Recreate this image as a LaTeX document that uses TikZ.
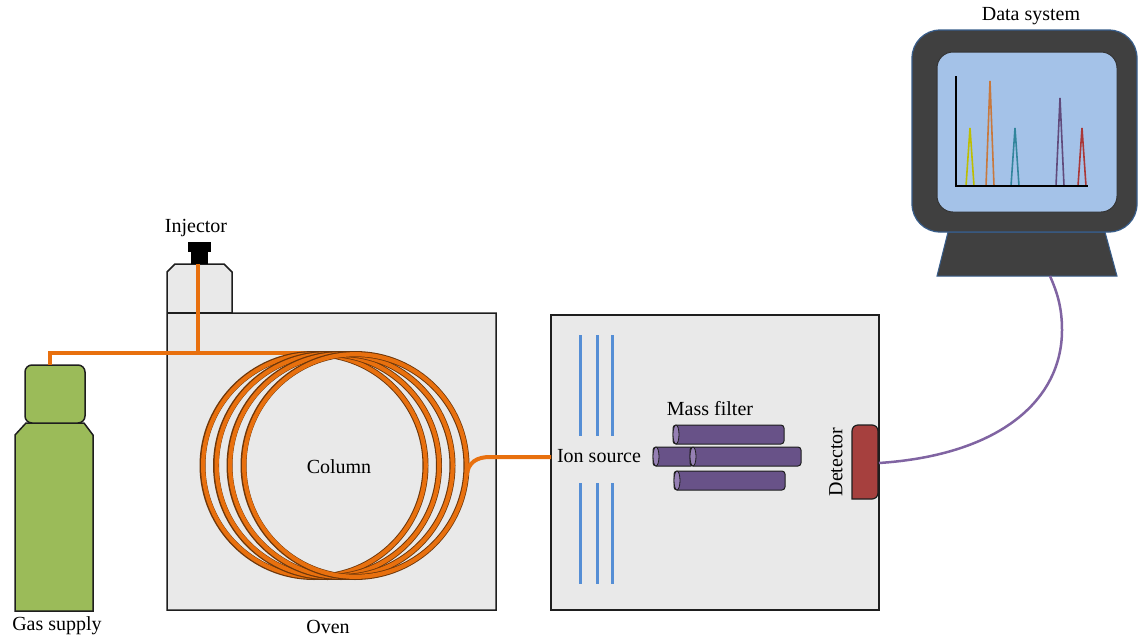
\documentclass[tikz,border=0pt]{standalone}
\usepackage{fontspec}
\setmainfont{Liberation Serif}
\begin{document}
\definecolor{ovenfill}{RGB}{233,233,233}
\definecolor{edge}{RGB}{30,30,30}
\definecolor{tube}{RGB}{232,112,14}
\definecolor{tubedark}{RGB}{110,55,10}
\definecolor{gasgreen}{RGB}{155,187,89}
\definecolor{ionblue}{RGB}{85,142,213}
\definecolor{rodpurple}{RGB}{104,82,136}
\definecolor{rodface}{RGB}{150,128,180}
\definecolor{detred}{RGB}{166,64,62}
\definecolor{cable}{RGB}{128,100,162}
\definecolor{monitor}{RGB}{64,64,64}
\definecolor{monedge}{RGB}{56,93,138}
\definecolor{screen}{RGB}{164,194,232}
\definecolor{pkyellow}{RGB}{190,190,0}
\definecolor{pkorange}{RGB}{200,120,60}
\definecolor{pkteal}{RGB}{49,133,156}
\definecolor{pkpurple}{RGB}{96,74,123}
\definecolor{pkred}{RGB}{170,55,55}
\begin{tikzpicture}[x=1pt,y=-1pt,
  lbl/.style={font=\fontsize{20}{24}\selectfont, inner sep=0pt, text=black},
  housing/.style={draw=edge, fill=ovenfill, line width=1.5pt},
  tubeline/.style={draw=tube, line width=4pt},
  coilback/.style={draw=tubedark, line width=6pt},
  coilfront/.style={draw=tube, line width=4.2pt},
  ionplate/.style={draw=ionblue, line width=3pt},
  rodbody/.style={draw=edge, fill=rodpurple, line width=1pt, rounded corners=3pt},
  rodend/.style={draw=edge, fill=rodface, line width=0.8pt},
  peak/.style={line width=1.6pt, line join=miter}]
\useasboundingbox (0,0) rectangle (1138,638);

% ---------- gas cylinder ----------
\draw[draw=edge, fill=gasgreen, line width=1.5pt]
  (15,611) -- (15,435) -- (26,423) -- (84,423) -- (93,435) -- (93,611) -- cycle;
\draw[draw=edge, fill=gasgreen, line width=1.5pt, rounded corners=7pt]
  (25,365) rectangle (85,423);
\coordinate (gasout) at (50,365);
\node[lbl] (gaslabel) at (57,626) {Gas supply};

% ---------- oven with injector block ----------
\draw[housing]
  (167,610) -- (167,272) -- (175,264) -- (224,264) -- (232,272) -- (232,313)
  -- (496,313) -- (496,610) -- cycle;
\draw[draw=edge, line width=1.2pt] (167,313) -- (232,313);
% injector septum cap
\fill[black] (188,242) rectangle (211,252);
\fill[black] (191,250) rectangle (208,264);
\coordinate (injport) at (198,264);
\node[lbl] (injlabel) at (196,228) {Injector};
\node[lbl] (ovenlabel) at (328,627) {Oven};

% carrier gas lines
\draw[tubeline] (gasout) |- (316,352.5);
\draw[tubeline] (injport) -- (198,352.5);

% ---------- column coil ----------
\foreach \cx in {314,327.5,341,355}{
  \draw[coilback] (\cx,465.5) circle (111.5);
  \draw[coilfront] (\cx+0.4,465.5) circle (111.3);
}
\node[lbl] (collabel) at (339,467) {Column};

% ---------- mass spectrometer housing ----------
\draw[housing] (551,315) rectangle (879,610);
\coordinate (msin) at (551,457);
\draw[tubeline] (466.5,476) .. controls (468,462) and (477,457) .. (490,457) -- (msin);

% ion source plates
\foreach \x in {580,597,612}{
  \draw[ionplate] (\x,335) -- (\x,436);
  \draw[ionplate] (\x,483) -- (\x,584);
}
\node[lbl, fill=ovenfill, inner xsep=1pt, inner ysep=2pt] (ionlabel) at (599,456) {Ion source};

% quadrupole rods of the mass filter
\draw[rodbody] (673,425) rectangle (784,444);
\draw[rodend] (676,434.5) ellipse (3 and 9.5);
\draw[rodbody] (653,447) rectangle (694,466);
\draw[rodend] (656,456.5) ellipse (3 and 9.5);
\draw[rodbody] (690,447) rectangle (801,466);
\draw[rodend] (693,456.5) ellipse (3 and 9.5);
\draw[rodbody] (674,471) rectangle (785,490);
\draw[rodend] (677,480.5) ellipse (3 and 9.5);
\node[lbl] (mflabel) at (710,409) {Mass filter};

% detector
\draw[draw=edge, fill=detred, line width=1.2pt, rounded corners=6pt]
  (852,499) -- (852,425) -- (878,425) -- (878,499) [sharp corners] -- cycle;
\draw[draw=edge, line width=1.5pt] (879,315) -- (879,610);
\node[lbl, rotate=90] (detlabel) at (836,462) {Detector};
\coordinate (detout) at (879,463);

% ---------- data system ----------
\draw[draw=monedge, fill=monitor, line width=1pt]
  (948,232) -- (1105,232) -- (1117,276) -- (937,276) -- cycle;
\draw[draw=monedge, fill=monitor, line width=1.2pt, rounded corners=28pt]
  (912,30) rectangle (1137,232);
\draw[draw=black!80, fill=screen, line width=1pt, rounded corners=16pt]
  (937,52) rectangle (1117,212);
\coordinate (monin) at (1050,276);
\node[lbl] (dslabel) at (1031,16) {Data system};

% chromatogram
\draw[pkyellow, peak] (966,186) -- (970,128) -- (974,186);
\draw[pkorange, peak] (986,186) -- (990,81) -- (994,186);
\draw[pkteal, peak] (1011,186) -- (1015,128) -- (1019,186);
\draw[pkpurple, peak] (1056,186) -- (1060,98) -- (1064,186);
\draw[pkred, peak] (1078,186) -- (1082,128) -- (1086,186);
\draw[black, line width=2.4pt] (956,76) -- (956,186) -- (1088,186);

% signal cable
\draw[cable, line width=2.5pt] (detout) .. controls (1000,455) and (1062,400) .. (1062,330)
  .. controls (1062,305) and (1056,290) .. (monin);
\end{tikzpicture}
\end{document}
